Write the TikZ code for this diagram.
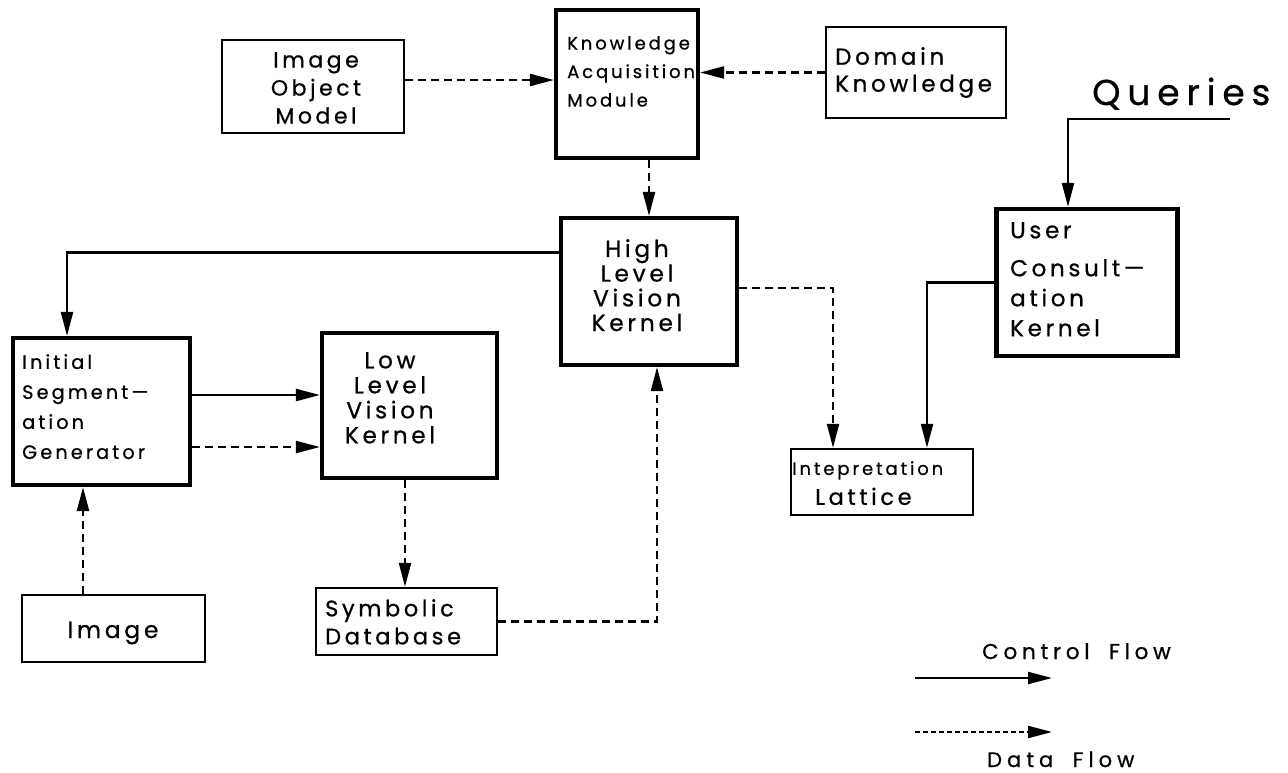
\documentclass[tikz,border=0pt]{standalone}
\usepackage{fontspec}
\setmainfont{Poppins}[LetterSpace=16, FakeBold=0.7]
\usetikzlibrary{arrows.meta}

\begin{document}
\begin{tikzpicture}[x=1pt,y=-1pt,
  thinbox/.style={draw, line width=2.4pt, inner sep=0pt},
  thickbox/.style={draw, line width=4.2pt, inner sep=0pt},
  lbl/.style={inner sep=0pt, align=left, anchor=north west},
  ctrl/.style={line width=2.3pt, -{Triangle[length=24pt,width=12pt]}},
  data/.style={ctrl, dash pattern=on 8pt off 5pt},
]
\useasboundingbox (0,0) rectangle (1288,772);

% boxes
\node[thinbox,  minimum width=182pt, minimum height=93pt]  (iom)  at (313,86.5)   {};
\node[thickbox, minimum width=142pt, minimum height=148pt] (kam)  at (627,84)     {};
\node[thinbox,  minimum width=180pt, minimum height=91pt]  (dk)   at (916,72.5)   {};
\node[thickbox, minimum width=181pt, minimum height=147pt] (uck)  at (1087,282.5) {};
\node[thickbox, minimum width=176pt, minimum height=147pt] (hlvk) at (649,291.5)  {};
\node[thickbox, minimum width=177pt, minimum height=147pt] (isg)  at (101.5,411.5){};
\node[thickbox, minimum width=175pt, minimum height=145pt] (llvk) at (409.5,405.5){};
\node[thinbox,  minimum width=182pt, minimum height=66pt]  (lat)  at (882,482)    {};
\node[thinbox,  minimum width=183pt, minimum height=67pt]  (img)  at (113.5,628.5){};
\node[thinbox,  minimum width=181pt, minimum height=67pt]  (sdb)  at (406.5,621.5){};

% box texts
\node[lbl, anchor=north, align=center, font=\fontsize{22pt}{28pt}\selectfont] (iomT) at (316,52) {Image\\Object\\Model};
\node[lbl, font=\fontsize{18pt}{28.5pt}\selectfont] (kamT) at (567,36) {Knowledge\\Acquisition\\Module};
\node[lbl, font=\fontsize{23pt}{27pt}\selectfont] (dkT) at (835,47) {Domain\\Knowledge};
\node[lbl, anchor=north, align=center, font=\fontsize{23.3pt}{24.7pt}\selectfont] (hlvkT) at (637,239) {High\\Level\\Vision\\Kernel};
\node[lbl, font=\fontsize{23pt}{30pt}\selectfont] (uckT) at (1010,222) {User\\[8pt]Consult—\\ation\\Kernel};
\node[lbl, font=\fontsize{19.3pt}{30pt}\selectfont] (isgT) at (22,354) {Initial\\Segment—\\ation\\Generator};
\node[lbl, anchor=north, align=center, font=\fontsize{23.1pt}{25pt}\selectfont] (llvkT) at (390,352) {Low\\Level\\Vision\\Kernel};
\node[lbl, font=\fontsize{18pt}{30pt}\selectfont] (latT) at (792,461) {Intepretation\\\hspace*{23pt}\fontsize{22.6pt}{30pt}\selectfont Lattice};
\node[inner sep=0pt, anchor=base, font=\fontsize{23.4pt}{25pt}\selectfont] (imgT) at (113,638) {Image};
\node[lbl, font=\fontsize{22.5pt}{28pt}\selectfont] (sdbT) at (325,599) {Symbolic\\Database};
\node[inner sep=0pt, anchor=base west, font=\fontsize{36pt}{40pt}\selectfont\addfontfeature{LetterSpace=19}] (qT) at (1092,105) {Queries};

% connectors
\coordinate (iomOut) at ([yshift=6.5pt]iom.east);
\draw[data] (iomOut) -- (iomOut -| kam.west);
\draw[data] (dk.west) -- (dk.west -| kam.east);
\draw[data] (kam.south -| hlvk.north) -- (hlvk.north);

\coordinate (hlvkOut) at ([yshift=39pt]hlvk.west);
\coordinate (isgIn) at ([xshift=-34.5pt]isg.north);
\draw[ctrl] (hlvkOut) -| (isgIn);

\coordinate (isgC) at ([yshift=16.5pt]isg.east);
\draw[ctrl] (isgC) -- (isgC -| llvk.west);
\coordinate (isgD) at ([yshift=-35.5pt]isg.east);
\draw[data] (isgD) -- (isgD -| llvk.west);

\coordinate (imgOut) at ([xshift=-30.5pt]img.north);
\draw[data] (imgOut) -- (imgOut |- isg.south);

\coordinate (llvkOut) at ([xshift=-4.5pt]llvk.south);
\draw[data] (llvkOut) -- (llvkOut |- sdb.north);

\coordinate (hlvkIn) at ([xshift=8pt]hlvk.south);
\draw[data] (sdb.east) -| (hlvkIn);

\coordinate (hlvkR) at ([yshift=3.5pt]hlvk.east);
\coordinate (latL) at ([xshift=-49pt]lat.north);
\draw[data] (hlvkR) -| (latL);

\coordinate (latR) at ([xshift=45pt]lat.north);
\draw[ctrl] (uck.west) -| (latR);

\coordinate (qEnd) at (1230,119);
\coordinate (uckIn) at ([xshift=-19pt]uck.north);
\draw[ctrl] (qEnd) -| (uckIn);

% legend
\coordinate (cfA) at (915,678);
\coordinate (cfB) at (1052,678);
\draw[ctrl] (cfA) -- (cfB);
\coordinate (dfA) at (915,732);
\coordinate (dfB) at (1052,732);
\draw[ctrl, dash pattern=on 5pt off 3pt] (dfA) -- (dfB);
\node[inner sep=0pt, anchor=base west, font=\fontsize{21.5pt}{24pt}\selectfont\addfontfeature{LetterSpace=22}] (cfT) at (982,659) {Control\hspace{9pt} Flow};
\node[inner sep=0pt, anchor=base west, font=\fontsize{21pt}{24pt}\selectfont\addfontfeature{LetterSpace=24}] (dfT) at (987,767) {Data\hspace{9pt} Flow};
\end{tikzpicture}
\end{document}
